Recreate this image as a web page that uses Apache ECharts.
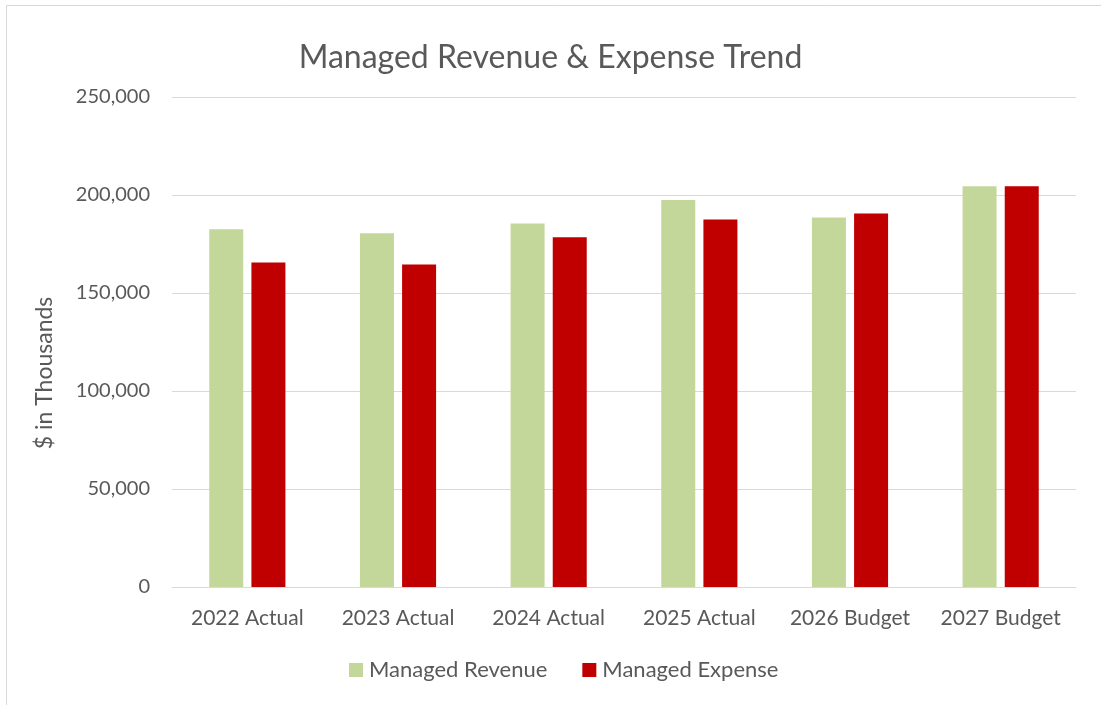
<!DOCTYPE html>
<html>
<head>
<meta charset="utf-8">
<script src="https://cdn.jsdelivr.net/npm/echarts@6/dist/echarts.min.js"></script>
<style>
  html, body { margin: 0; padding: 0; background: #ffffff; }
  #chart { width: 1101px; height: 705px; }
</style>
</head>
<body>
<div id="chart"></div>
<script>
const categories = ['2022 Actual', '2023 Actual', '2024 Actual', '2025 Actual', '2026 Budget', '2027 Budget'];
const managedRevenue = [182500, 180500, 185500, 197500, 188500, 204500];
const managedExpense = [165500, 164500, 178500, 187500, 190500, 204500];
const yTicks = [0, 50000, 100000, 150000, 200000, 250000];

const FONT = 'Lato, "Open Sans", sans-serif';
const TXT = '#595959';

const chart = echarts.init(document.getElementById('chart'), null, { renderer: 'canvas' });
chart.setOption({
  animation: false,
  backgroundColor: '#ffffff',
  title: {
    text: 'Managed Revenue & Expense Trend',
    left: 'center',
    top: 37,
    textStyle: { fontFamily: FONT, fontSize: 32, fontWeight: 'normal', color: TXT }
  },
  legend: {
    bottom: 19,
    left: 344,
    itemWidth: 14,
    itemHeight: 14,
    itemGap: 35,
    icon: 'rect',
    textStyle: { fontFamily: FONT, fontSize: 22, color: TXT, padding: [0, 0, 0, 1] },
    data: ['Managed Revenue', 'Managed Expense']
  },
  grid: { left: 172, right: 25, top: 97, bottom: 118, containLabel: false },
  xAxis: {
    type: 'category',
    data: categories,
    axisLine: { show: true, lineStyle: { color: '#D9D9D9', width: 1 } },
    axisTick: { show: false },
    axisLabel: { interval: 0, margin: 21, fontFamily: FONT, fontSize: 21, color: TXT }
  },
  yAxis: {
    type: 'value',
    min: yTicks[0],
    max: yTicks[yTicks.length - 1],
    interval: yTicks[1] - yTicks[0],
    axisLine: { show: false },
    axisTick: { show: false },
    splitLine: { lineStyle: { color: '#D9D9D9', width: 1 } },
    axisLabel: {
      margin: 22,
      fontFamily: FONT, fontSize: 20, color: TXT,
      formatter: v => v.toLocaleString('en-US')
    }
  },
  graphic: [
    { type: 'line', shape: { x1: 6.5, y1: 5.5, x2: 1101, y2: 5.5 }, style: { stroke: '#D9D9D9', lineWidth: 1 } },
    { type: 'line', shape: { x1: 6.5, y1: 5.5, x2: 6.5, y2: 705 }, style: { stroke: '#D9D9D9', lineWidth: 1 } },
    {
      type: 'text', x: 45, y: 373, rotation: Math.PI / 2,
      style: { text: '$ in Thousands', fontFamily: FONT, fontSize: 23, fill: TXT, align: 'center', verticalAlign: 'middle' }
    }
  ],
  series: [
    {
      name: 'Managed Revenue', type: 'bar', data: managedRevenue,
      barWidth: 34, barGap: '24%',
      itemStyle: { color: '#C4D79B' }
    },
    {
      name: 'Managed Expense', type: 'bar', data: managedExpense,
      barWidth: 34, barGap: '24%',
      itemStyle: { color: '#C00000' }
    }
  ]
});
</script>
</body>
</html>
